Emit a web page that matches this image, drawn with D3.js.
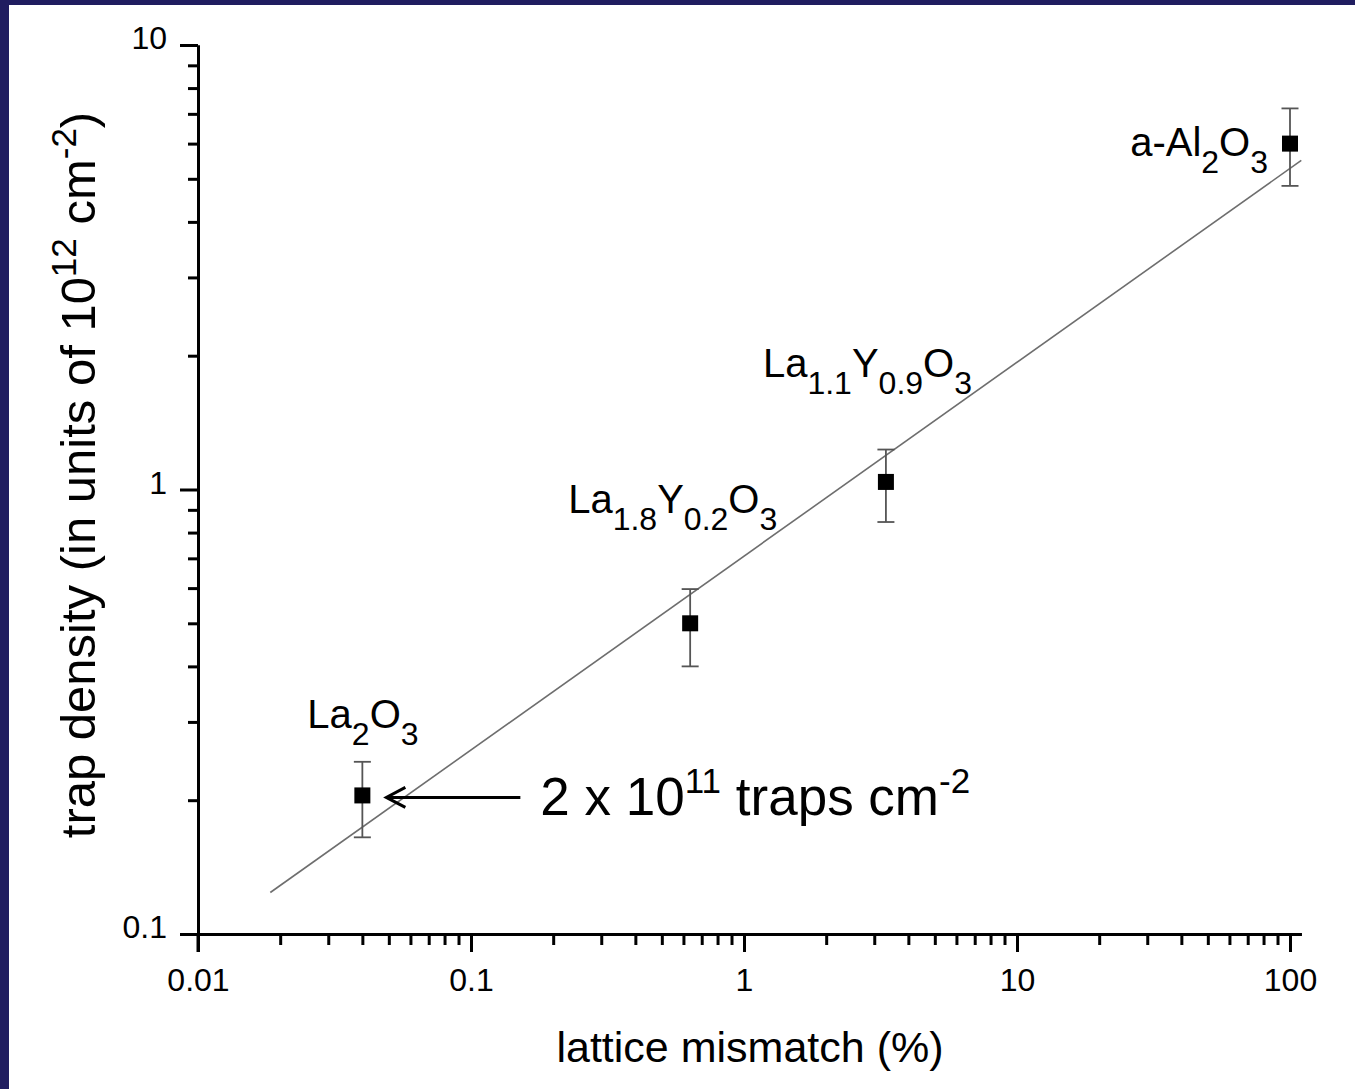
<!DOCTYPE html>
<html>
<head>
<meta charset="utf-8">
<script src="https://cdn.jsdelivr.net/npm/d3@7"></script>
<style>
	body { margin: 0; background: #fff; }
	svg text { font-family: "Liberation Sans", Arial, sans-serif; fill: #000; }
</style>
</head>
<body>
<svg id="chart" width="1355" height="1089"></svg>
<script>
// materials, lattice mismatch (%) and trap density (10^12 cm^-2) with error bars
var materials = ["La2O3", "La1.8Y0.2O3", "La1.1Y0.9O3", "a-Al2O3"];
var mismatch = [0.04, 0.635, 3.31, 100];
var density = [0.205, 0.50, 1.04, 6.0];
var densityLow = [0.165, 0.40, 0.845, 4.82];
var densityHigh = [0.244, 0.597, 1.23, 7.2];

// linear fit on log-log axes (end points)
var fitX = [0.0184, 110];
var fitY = [0.124, 5.5];

var xMajorTicks = [0.01, 0.1, 1, 10, 100];
var yMajorTicks = [0.1, 1, 10];
var xTickLabels = ["0.01", "0.1", "1", "10", "100"];
var yTickLabels = ["0.1", "1", "10"];

var svg = d3.select("#chart");

// navy slide border (top and left)
svg.append("rect").attr("x", 0).attr("y", 0).attr("width", 1355).attr("height", 5).attr("fill", "#201d60");
svg.append("rect").attr("x", 0).attr("y", 0).attr("width", 9).attr("height", 1089).attr("fill", "#201d60");

var x = d3.scaleLog().domain([0.01, 110]).range([198, 198 + 273 * Math.log10(11000)]);
var y = d3.scaleLog().domain([0.1, 10]).range([934, 45]);

/**
 * minor ticks 2..9 for every decade inside the domain
 */
function minorTicks(lo, hi) {
	var out = [];
	for (var d = lo; d < hi; d *= 10) {
		for (var k = 2; k <= 9; k++) {
			var v = d * k;
			if (v <= hi) out.push(v);
		}
	}
	return out;
}

function styleAxis(g) {
	g.select(".domain").attr("stroke", "#000").attr("stroke-width", 3);
	g.selectAll(".tick line").attr("stroke", "#000").attr("stroke-width", 3);
}

// x axis
var gxMinor = svg.append("g").attr("transform", "translate(0," + y(0.1) + ")")
	.call(d3.axisBottom(x).tickValues(minorTicks(0.01, 110).filter(function (v) { return xMajorTicks.indexOf(v) < 0 && v < 100; }))
		.tickSize(11).tickSizeOuter(0).tickFormat(""));
styleAxis(gxMinor);
var gx = svg.append("g").attr("transform", "translate(0," + y(0.1) + ")")
	.call(d3.axisBottom(x).tickValues(xMajorTicks).tickSize(18).tickSizeOuter(0)
		.tickFormat(function (d, i) { return xTickLabels[i]; }));
styleAxis(gx);
gx.selectAll(".tick text").attr("font-size", 32).attr("dy", 0).attr("y", 57)
	.style("font-family", "'Liberation Sans', Arial, sans-serif").attr("fill", "#000");

// y axis
var gyMinor = svg.append("g").attr("transform", "translate(" + x(0.01) + ",0)")
	.call(d3.axisLeft(y).tickValues(minorTicks(0.1, 10).filter(function (v) { return v < 10; }))
		.tickSize(10).tickSizeOuter(0).tickFormat(""));
styleAxis(gyMinor);
var gy = svg.append("g").attr("transform", "translate(" + x(0.01) + ",0)")
	.call(d3.axisLeft(y).tickValues(yMajorTicks).tickSize(18).tickSizeOuter(0)
		.tickFormat(function (d, i) { return yTickLabels[i]; }));
styleAxis(gy);
gy.selectAll(".tick text").attr("font-size", 32).attr("x", -31).attr("dy", "0.12em")
	.style("font-family", "'Liberation Sans', Arial, sans-serif").attr("fill", "#000");

// extend y axis line below the x axis (0.01 tick)
svg.append("line").attr("x1", x(0.01)).attr("x2", x(0.01))
	.attr("y1", y(0.1)).attr("y2", y(0.1) + 18).attr("stroke", "#000").attr("stroke-width", 3);

// fit line
svg.append("line")
	.attr("x1", x(fitX[0])).attr("y1", y(fitY[0]))
	.attr("x2", x(fitX[1])).attr("y2", y(fitY[1]))
	.attr("stroke", "#6e6e6e").attr("stroke-width", 1.6);

// data points with error bars
var pts = materials.map(function (m, i) {
	return { name: m, x: mismatch[i], y: density[i], lo: densityLow[i], hi: densityHigh[i] };
});

var pg = svg.append("g").selectAll("g").data(pts).enter().append("g");
pg.append("line")
	.attr("x1", function (d) { return x(d.x); }).attr("x2", function (d) { return x(d.x); })
	.attr("y1", function (d) { return y(d.lo); }).attr("y2", function (d) { return y(d.hi); })
	.attr("stroke", "#555").attr("stroke-width", 1.8);
["lo", "hi"].forEach(function (k) {
	pg.append("line")
		.attr("x1", function (d) { return x(d.x) - 8.5; }).attr("x2", function (d) { return x(d.x) + 8.5; })
		.attr("y1", function (d) { return y(d[k]); }).attr("y2", function (d) { return y(d[k]); })
		.attr("stroke", "#555").attr("stroke-width", 1.8);
});
pg.append("rect")
	.attr("x", function (d) { return x(d.x) - 8; }).attr("y", function (d) { return y(d.y) - 8; })
	.attr("width", 16).attr("height", 16).attr("fill", "#000");

// chemical formula labels; parts: [text, "n"ormal | "s"ubscript]
var labelParts = {
	"La2O3": [["La", "n"], ["2", "s"], ["O", "n"], ["3", "s"]],
	"La1.8Y0.2O3": [["La", "n"], ["1.8", "s"], ["Y", "n"], ["0.2", "s"], ["O", "n"], ["3", "s"]],
	"La1.1Y0.9O3": [["La", "n"], ["1.1", "s"], ["Y", "n"], ["0.9", "s"], ["O", "n"], ["3", "s"]],
	"a-Al2O3": [["a-Al", "n"], ["2", "s"], ["O", "n"], ["3", "s"]]
};
var labelOffset = {
	"La2O3": [-55, -67, "start"],
	"La1.8Y0.2O3": [-122, -110, "start"],
	"La1.1Y0.9O3": [-123, -105, "start"],
	"a-Al2O3": [-22, 12, "end"]
};

pts.forEach(function (d) {
	var off = labelOffset[d.name];
	var t = svg.append("text")
		.attr("x", x(d.x) + off[0]).attr("y", y(d.y) + off[1])
		.attr("text-anchor", off[2]).attr("font-size", 40);
	var shift = 0;
	labelParts[d.name].forEach(function (p) {
		var dy = 0;
		if (p[1] === "s" && shift === 0) { dy = 17; shift = 17; }
		else if (p[1] === "n" && shift !== 0) { dy = -17; shift = 0; }
		t.append("tspan").attr("dy", dy).attr("font-size", p[1] === "s" ? 32 : 40).text(p[0]);
	});
});

// annotation arrow pointing at La2O3
var ax = x(mismatch[0]), ay = y(density[0]) + 2;
svg.append("path")
	.attr("d", "M" + (ax + 158) + "," + ay + " L" + (ax + 24) + "," + ay +
		" M" + (ax + 43) + "," + (ay - 10) + " L" + (ax + 24) + "," + ay + " L" + (ax + 43) + "," + (ay + 10))
	.attr("fill", "none").attr("stroke", "#000").attr("stroke-width", 3);

var ann = svg.append("text").attr("x", ax + 178).attr("y", ay + 18).attr("font-size", 53);
ann.append("tspan").text("2 x 10");
ann.append("tspan").attr("dy", -22).attr("font-size", 35).text("11");
ann.append("tspan").attr("dy", 22).text(" traps cm");
ann.append("tspan").attr("dy", -22).attr("font-size", 35).text("-2");

// axis titles
svg.append("text").attr("x", 750).attr("y", 1062).attr("text-anchor", "middle")
	.attr("font-size", 43).text("lattice mismatch (%)");

var yt = svg.append("text").attr("transform", "translate(95,475) rotate(-90)")
	.attr("text-anchor", "middle").attr("font-size", 49);
yt.append("tspan").text("trap density (in units of 10");
yt.append("tspan").attr("dy", -19).attr("font-size", 35).text("12");
yt.append("tspan").attr("dy", 19).text(" cm");
yt.append("tspan").attr("dy", -19).attr("font-size", 35).text("-2");
yt.append("tspan").attr("dy", 19).text(")");
</script>
</body>
</html>
